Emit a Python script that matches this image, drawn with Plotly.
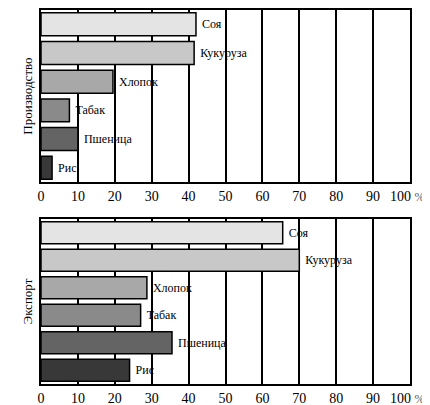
import plotly.graph_objects as go
from plotly.subplots import make_subplots

crops = ["Соя", "Кукуруза", "Хлопок", "Табак", "Пшеница", "Рис"]
production = [42, 41.5, 19.5, 7.7, 10, 3]
export = [65.5, 70, 28.7, 27, 35.5, 24]
colors = ["#e4e4e4", "#c8c8c8", "#a8a8a8", "#8a8a8a", "#646464", "#383838"]
tick_vals = [0, 10, 20, 30, 40, 50, 60, 70, 80, 90, 100]
tick_text = [str(v) for v in tick_vals[:-1]] + [""]
last_tick = "100 <span style='color:#555;font-size:12px'>%</span>"
panel_titles = ["Производство", "Экспорт"]

SERIF = "Liberation Serif, DejaVu Serif, serif"

fig = make_subplots(rows=2, cols=1, vertical_spacing=0.1)

for i, vals in enumerate([production, export]):
    fig.add_trace(go.Bar(
        y=crops, x=vals, orientation="h",
        marker=dict(color=colors, line=dict(color="black", width=1.5)),
        width=0.8,
        text=[" " + c for c in crops], textposition="outside", cliponaxis=False,
        textfont=dict(family=SERIF, size=12, color="black"),
        showlegend=False, hoverinfo="x+y",
    ), row=i + 1, col=1)

for i in range(2):
    r = i + 1
    fig.update_xaxes(range=[0, 100], tickvals=tick_vals, ticktext=tick_text,
                     showgrid=True, gridcolor="black", gridwidth=1.5,
                     showline=True, linecolor="black", linewidth=1.5, mirror=True,
                     zeroline=False, ticks="", ticklen=0, automargin=False,
                     tickfont=dict(family=SERIF, size=14, color="black"),
                     row=r, col=1)
    fig.update_yaxes(autorange="reversed", showticklabels=False, showgrid=False,
                     showline=True, linecolor="black", linewidth=1.5, mirror=True,
                     automargin=False,
                     title=dict(text=panel_titles[i], standoff=4,
                                font=dict(family=SERIF, size=13, color="black")),
                     row=r, col=1)

# page body has an 8px default margin; size the figure to fit the window
fig.update_layout(
    width=422, height=397,
    margin=dict(l=33, r=20, t=2, b=21),
    plot_bgcolor="white", paper_bgcolor="white",
    bargap=0.2,
    xaxis=dict(domain=[0, 1]),
    yaxis=dict(domain=[0.540, 1]),
    yaxis2=dict(domain=[0, 0.441]),
)

for xref, yref in [("x", "y domain"), ("x2", "y2 domain")]:
    fig.add_annotation(text=last_tick, x=tick_vals[-1], xref=xref, y=0, yref=yref,
                       xanchor="left", xshift=-22, yanchor="top", yshift=-5,
                       showarrow=False,
                       font=dict(family=SERIF, size=14, color="black"))

fig.write_html("out.html")
